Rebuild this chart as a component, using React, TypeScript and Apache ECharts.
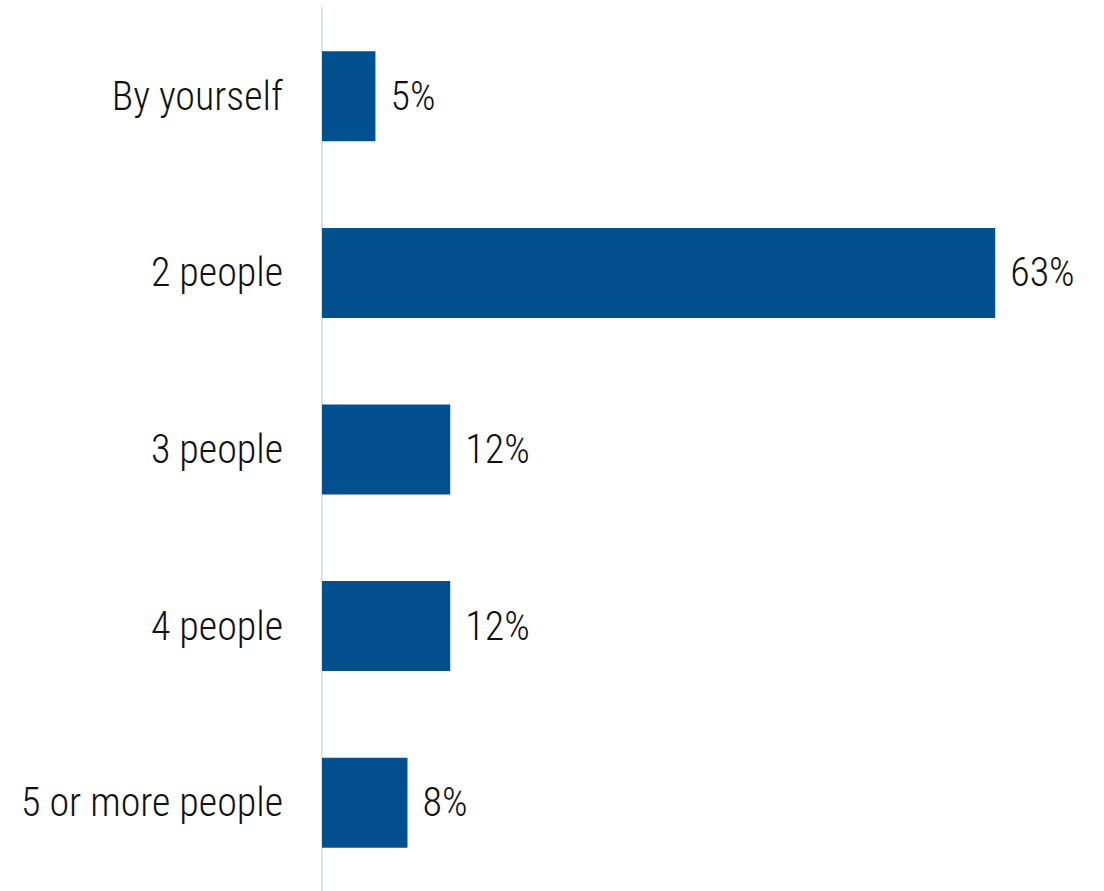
import React, { useEffect, useRef } from "react";
import * as echarts from "echarts";

const categories = ["By yourself", "2 people", "3 people", "4 people", "5 or more people"];
const values = [5, 63, 12, 12, 8];

const FONT = '"Roboto Condensed", "Liberation Sans Narrow", "Arial Narrow", sans-serif';

export default function App() {
  const ref = useRef<HTMLDivElement>(null);
  useEffect(() => {
    if (!ref.current) return;
    const chart = echarts.init(ref.current, undefined, { renderer: "svg" });
    chart.setOption({
      animation: false,
      backgroundColor: "#ffffff",
      grid: { left: 322, right: 34, top: 8, bottom: -5, containLabel: false },
      xAxis: {
        type: "value",
        min: 0,
        max: 70,
        show: false,
      },
      yAxis: {
        type: "category",
        data: categories,
        inverse: true,
        axisLine: { show: true, lineStyle: { color: "#dde1ea", width: 2 } },
        axisTick: { show: false },
        axisLabel: {
          color: "#111111",
          fontFamily: FONT,
          fontWeight: 300,
          fontSize: 40,
          margin: 39,
        },
        splitLine: { show: false },
      },
      series: [
        {
          type: "bar",
          data: values,
          barWidth: 90,
          itemStyle: { color: "#02508f" },
          label: {
            show: true,
            position: "right",
            distance: 15,
            formatter: "{c}%",
            color: "#111111",
            fontFamily: FONT,
            fontWeight: 300,
            fontSize: 40,
          },
        },
      ],
    });
    return () => chart.dispose();
  }, []);
  return (
    <div
      ref={ref}
      style={{ position: "absolute", left: 0, top: 0, width: 1104, height: 891 }}
    />
  );
}
